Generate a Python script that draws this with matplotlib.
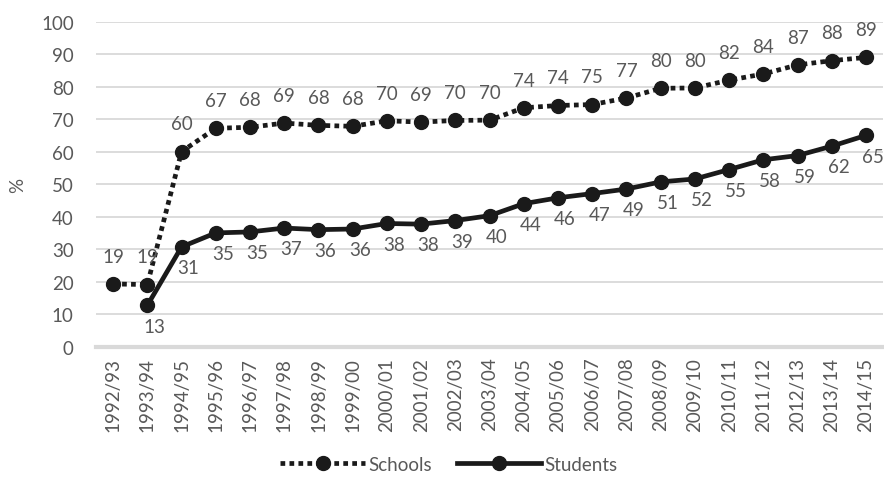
import numpy as np
import matplotlib
matplotlib.use("Agg")
import matplotlib.pyplot as plt

plt.rcParams['font.family'] = ['Lato', 'DejaVu Sans']

# Datos
years = ['1992/93', '1993/94', '1994/95', '1995/96', '1996/97', '1997/98',
         '1998/99', '1999/00', '2000/01', '2001/02', '2002/03', '2003/04',
         '2004/05', '2005/06', '2006/07', '2007/08', '2008/09', '2009/10',
         '2010/11', '2011/12', '2012/13', '2013/14', '2014/15']
schools = [19.4, 19.2, 60.1, 67.3, 67.6, 68.9, 68.2, 67.9, 69.6, 69.2, 69.7, 69.8,
           73.6, 74.3, 74.6, 76.6, 79.6, 79.7, 82.1, 84.0, 86.8, 88.1, 89.1]
students = [np.nan, 12.8, 30.8, 35.1, 35.4, 36.6, 36.1, 36.3, 38.0, 37.8, 38.9, 40.4,
            44.1, 45.9, 47.2, 48.6, 50.8, 51.7, 54.6, 57.6, 58.9, 61.8, 65.1]

gris = '#595959'
negro = '#1a1a1a'
fs = 13.5

fig = plt.figure(figsize=(8.84, 4.85), dpi=100)
ax = fig.add_axes([0.1086, 0.2825, 0.8904, 0.6701])

x = np.arange(len(years))

ax.plot(x, schools, color=negro, linewidth=3.4, linestyle=(0, (1, 0.9)),
        dash_capstyle='butt', marker='o', markersize=10, label='Schools', zorder=3)
ax.plot(x, students, color=negro, linewidth=3.4, marker='o', markersize=10,
        label='Students', zorder=3)

# Etiquetas
for xi, v in zip(x, schools):
    ax.annotate(f'{v:.0f}', (xi, v), xytext=(0, 20), textcoords='offset points',
                ha='center', va='center', fontsize=fs, color=gris)
for xi, v in zip(x, students):
    if np.isnan(v):
        continue
    ax.annotate(f'{v:.0f}', (xi, v), xytext=(5, -15), textcoords='offset points',
                ha='center', va='center', fontsize=fs, color=gris)

ax.set_xlim(-0.5, len(years) - 0.5)
ax.set_ylim(0, 100)
ax.set_yticks(range(0, 101, 10))
ax.set_xticks(x)
ax.set_xticklabels(years, rotation=90, fontsize=13.5, color=gris)
ax.tick_params(axis='y', labelsize=fs, colors=gris, length=0, pad=16)
ax.tick_params(axis='x', length=0, pad=7)
ax.set_ylabel('%', fontsize=fs, color=gris, labelpad=11)

ax.grid(axis='y', color='#d9d9d9', linewidth=1.3)
ax.set_axisbelow(True)
for s in ['top', 'right', 'left']:
    ax.spines[s].set_visible(False)
ax.spines['bottom'].set_color('#d9d9d9')
ax.spines['bottom'].set_linewidth(3)

leg = fig.legend(loc='center', bbox_to_anchor=(0.508, 0.041), ncol=2, frameon=False,
                 fontsize=fs, handlelength=4.5, columnspacing=1.3, handletextpad=0.2)
for t in leg.get_texts():
    t.set_color(gris)

fig.savefig('out.png', dpi=100)
